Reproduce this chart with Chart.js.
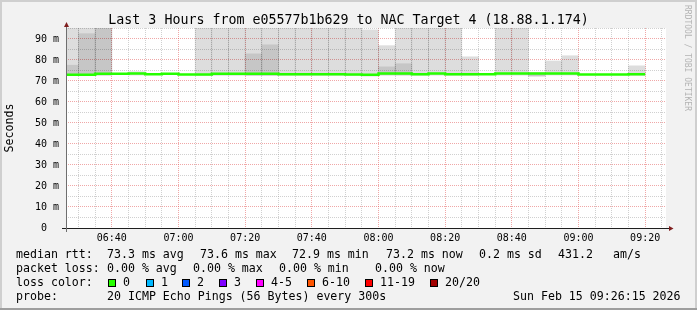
<!DOCTYPE html>
<html><head><meta charset="utf-8">
<script src="https://cdn.jsdelivr.net/npm/chart.js@4.4.1/dist/chart.umd.min.js"></script>
<style>
html,body{margin:0;padding:0;background:#f2f2f2;}
canvas{display:block;}
</style></head><body>
<canvas id="c" width="697" height="310"></canvas>
<script>
// ---- data ----
const binStart = ["06:25","06:30","06:35","06:40","06:45","06:50","06:55","07:00","07:05","07:10","07:15","07:20","07:25","07:30","07:35","07:40","07:45","07:50","07:55","08:00","08:05","08:10","08:15","08:20","08:25","08:30","08:35","08:40","08:45","08:50","08:55","09:00","09:05","09:10","09:15"];
const medianRtt = [72.9,72.9,73.4,73.4,73.6,73.2,73.4,73.1,73.1,73.4,73.4,73.4,73.4,73.2,73.2,73.2,73.2,73.1,73.0,73.5,73.5,73.2,73.5,73.2,73.2,73.2,73.5,73.5,73.5,73.5,73.5,73.1,73.1,73.1,73.2];
const smokeLow  = [72.6,72.6,72.8,null,72.8,null,null,null,72.6,72.6,72.6,72.6,72.6,72.6,72.6,72.6,72.6,72.6,72.3,72.8,72.8,72.6,72.8,72.6,72.6,null,72.8,72.8,72.3,72.8,72.8,null,null,null,72.6];
const smokeHigh = [100,100,100,null,74.4,null,null,null,100,100,100,100,100,100,100,100,100,100,94.3,86.8,100,100,100,100,81.5,null,100,100,73.9,79.5,82.0,null,null,null,77.2];
const smokeCore = [77.5,92.5,100,null,null,null,null,null,null,null,null,82.9,87.2,null,null,null,null,null,null,76.7,78.2,null,null,null,null,null,null,null,73.9,null,null,null,null,null,null];
const timeTickLabels = ["06:40","07:00","07:20","07:40","08:00","08:20","08:40","09:00","09:20"];
const viewStartLabel = "06:26:15", viewEndLabel = "09:26:15";
const yMax = 95.2;
const lossLegend = [["0","#26ff00"],["1","#00b8ff"],["2","#0059ff"],["3","#7e00ff"],["4-5","#ff00ff"],["6-10","#ff5500"],["11-19","#ff0000"],["20/20","#a10000"]];

// ---- helpers ----
const toMin = s => { const p = s.split(':').map(Number); return p[0]*60 + p[1] + (p[2]||0)/60; };
const BIN = 5;
const viewStart = toMin(viewStartLabel), viewEnd = toMin(viewEndLabel);
const labelMins = timeTickLabels.map(toMin);
const xGrid = []; for (let t = Math.ceil(viewStart/BIN)*BIN; t < viewEnd; t += BIN) xGrid.push(t);
const yGrid = []; for (let v = 0; v <= yMax; v += 5) yGrid.push(v);

const medianPts = binStart.map((s,i)=>({x: toMin(s), y: medianRtt[i]}));
medianPts.push({x: toMin(binStart[binStart.length-1]) + BIN, y: medianRtt[medianRtt.length-1]});
const outerPts = [], corePts = [];
binStart.forEach((s,i)=>{
  const c = toMin(s) + BIN/2;
  if (smokeHigh[i] != null) outerPts.push({x:c, y:[smokeLow[i], smokeHigh[i]]});
  if (smokeCore[i] != null) corePts.push({x:c, y:[smokeLow[i], smokeCore[i]]});
});

const MONO = '"DejaVu Sans Mono", monospace';
const MAJOR = 'rgba(225,80,80,0.5)', MINOR = 'rgba(150,150,150,0.45)';

const rrdPlugin = {
  id: 'rrd',
  beforeDraw(chart) {
    const {ctx, chartArea: a} = chart;
    ctx.save();
    ctx.fillStyle = '#f2f2f2'; ctx.fillRect(0,0,697,310);
    ctx.fillStyle = '#cfcfcf'; ctx.fillRect(0,0,697,2); ctx.fillRect(0,0,2,310); ctx.fillRect(695,0,2,310);
    ctx.fillStyle = '#9e9e9e'; ctx.fillRect(0,308,697,2);
    ctx.fillStyle = '#ffffff'; ctx.fillRect(a.left, a.top, a.right-a.left, a.bottom-a.top);
    ctx.restore();
  },
  afterDraw(chart) {
    const {ctx, chartArea: a} = chart;
    ctx.save();
    // axes
    ctx.fillStyle = '#1f1f1f';
    ctx.fillRect(a.left-4, a.bottom, a.right-a.left+8, 1);
    ctx.fillStyle = '#6f6f6f';
    ctx.fillRect(a.left, a.top-3, 1, a.bottom-a.top+7);
    // arrows
    ctx.fillStyle = '#801f1f';
    ctx.beginPath(); ctx.moveTo(a.left+0.5, a.top-6); ctx.lineTo(a.left+3, a.top-1); ctx.lineTo(a.left-2, a.top-1); ctx.closePath(); ctx.fill();
    ctx.beginPath(); ctx.moveTo(a.right+7.5, a.bottom+0.5); ctx.lineTo(a.right+3, a.bottom+3); ctx.lineTo(a.right+3, a.bottom-2); ctx.closePath(); ctx.fill();
    // rrdtool credit
    ctx.save();
    ctx.translate(687, 5); ctx.rotate(Math.PI/2);
    ctx.fillStyle = '#b4b4b4'; ctx.font = '8px ' + MONO; ctx.textBaseline = 'middle'; ctx.textAlign = 'left';
    ctx.fillText('RRDTOOL / TOBI OETIKER', 0, 0);
    ctx.restore();
    // legend
    ctx.fillStyle = '#000'; ctx.font = '11.6px ' + MONO; ctx.textBaseline = 'alphabetic'; ctx.textAlign = 'left';
    const rows = [
      [258, [[16,'median rtt:'],[107,'73.3 ms avg'],[200,'73.6 ms max'],[292,'72.9 ms min'],[386,'73.2 ms now'],[479,'0.2 ms sd'],[558,'431.2'],[613,'am/s']]],
      [272, [[16,'packet loss:'],[107,'0.00 % avg'],[193,'0.00 % max'],[279,'0.00 % min'],[375,'0.00 % now']]],
      [286, [[16,'loss color:']]],
      [300, [[16,'probe:'],[107,'20 ICMP Echo Pings (56 Bytes) every 300s'],[513,'Sun Feb 15 09:26:15 2026']]]
    ];
    rows.forEach(([y, items]) => items.forEach(([x, t]) => ctx.fillText(t, x, y)));
    const boxX = [108,146,182,219,256,307,365,430];
    lossLegend.forEach(([lab, col], i) => {
      const x = boxX[i];
      ctx.fillStyle = col; ctx.fillRect(x, 279, 8, 8);
      ctx.strokeStyle = '#000'; ctx.lineWidth = 1; ctx.strokeRect(x+0.5, 279.5, 7, 7);
      ctx.fillStyle = '#000'; ctx.fillText(lab, x+15, 286);
    });
    ctx.restore();
  }
};

new Chart(document.getElementById('c'), {
  type: 'bar',
  data: { datasets: [
    {type:'line', label:'median rtt', data: medianPts, xAxisID:'x', yAxisID:'y', stepped:'before', borderColor:'#26ff00', borderWidth:2.5, pointRadius:0, fill:false, order:0},
    {type:'bar', label:'smoke core', data: corePts, xAxisID:'x', yAxisID:'y', backgroundColor:'rgba(0,0,0,0.10)', borderWidth:0, grouped:false, barPercentage:1, categoryPercentage:1, order:1},
    {type:'bar', label:'smoke', data: outerPts, xAxisID:'x', yAxisID:'y', backgroundColor:'rgba(0,0,0,0.133)', borderWidth:0, grouped:false, barPercentage:1, categoryPercentage:1, order:2}
  ]},
  options: {
    responsive:false, animation:false, devicePixelRatio:1,
    layout:{padding:{left:0,right:0,top:0,bottom:60}},
    plugins:{
      legend:{display:false}, tooltip:{enabled:false},
      title:{display:true, text:'Last 3 Hours from e05577b1b629 to NAC Target 4 (18.88.1.174)', color:'#000',
        font:{family:MONO, size:13.3, weight:'normal', lineHeight:1}, padding:{top:14,bottom:0.7}}
    },
    scales:{
      x:{type:'linear', min:viewStart, max:viewEnd, offset:false,
        afterBuildTicks: s => { s.ticks = xGrid.map(v=>({value:v})); },
        afterFit: s => { s.height = 22; },
        grid:{offset:false, drawTicks:false, lineWidth:1, color: c => (c.tick && labelMins.some(m=>Math.abs(m-c.tick.value)<1e-6)) ? MAJOR : MINOR},
        border:{display:false, dash:[1,1]},
        ticks:{autoSkip:false, maxRotation:0, padding:4, color:'#000', font:{family:MONO, size:10},
          callback: v => { const i = labelMins.findIndex(m=>Math.abs(m-v)<1e-6); return i>=0 ? timeTickLabels[i] : ''; }}
      },
      y:{type:'linear', position:'left', min:0, max:yMax,
        afterBuildTicks: s => { s.ticks = yGrid.map(v=>({value:v})); },
        afterFit: s => { s.width = 66; },
        grid:{drawTicks:false, lineWidth:1, color: c => (c.tick && c.tick.value % 10 === 0) ? MAJOR : MINOR},
        border:{display:false, dash:[1,1]},
        ticks:{autoSkip:false, padding:7, color:'#000', font:{family:MONO, size:10},
          callback: v => v % 10 !== 0 ? '' : (v === 0 ? '0  ' : v + ' m')},
        title:{display:true, text:'Seconds', color:'#000', font:{family:MONO, size:11.6}, padding:{top:3.5,bottom:0}}
      },
      yR:{type:'linear', position:'right', display:true,
        afterFit: s => { s.width = 31; },
        grid:{display:false}, ticks:{display:false}, border:{display:false}}
    }
  },
  plugins:[rrdPlugin]
});
</script>
</body></html>
